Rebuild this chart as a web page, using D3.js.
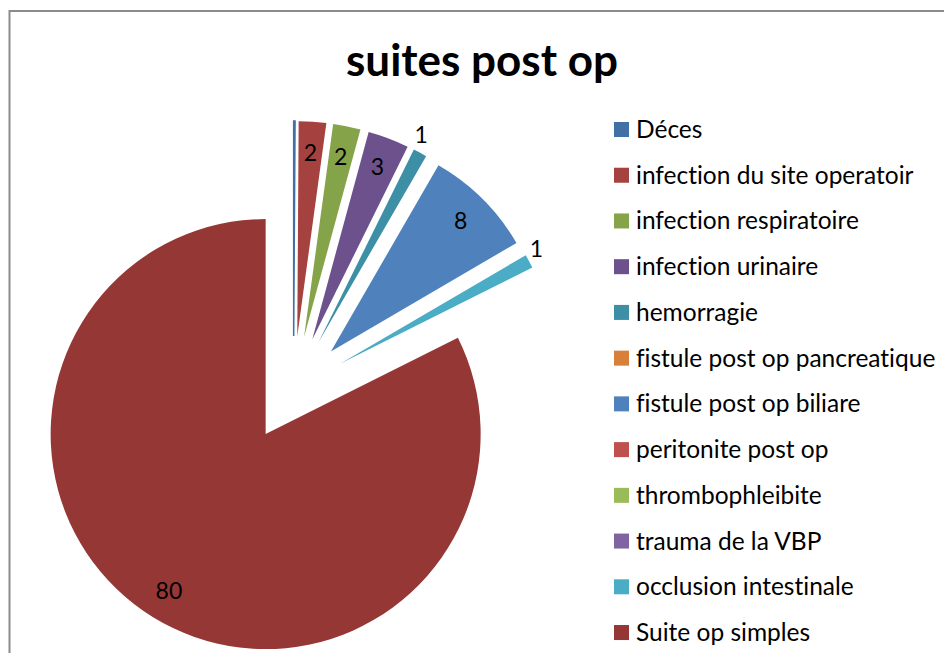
<!DOCTYPE html>
<html>
<head>
<meta charset="utf-8">
<script src="https://cdn.jsdelivr.net/npm/d3@7"></script>
<style>
  html, body { margin: 0; padding: 0; background: #fff; }
  svg { display: block; font-family: Lato, "Open Sans", sans-serif; font-variant-ligatures: none; }
</style>
</head>
<body>
<div id="chart"></div>
<script>
// data
var categories = [
  'Déces',
  'infection du site operatoir',
  'infection respiratoire',
  'infection urinaire',
  'hemorragie',
  'fistule post op pancreatique',
  'fistule post op biliare',
  'peritonite post op',
  'thrombophleibite',
  'trauma de la VBP',
  'occlusion intestinale',
  'Suite op simples'
];
var values = [0.1, 2, 2, 3, 1, 0, 8, 0, 0, 0, 1, 80];
var colors = ['#4170a6', '#a5413e', '#85a349', '#6c518c', '#3c8fa5', '#d7803a',
  '#4f81bd', '#c0504d', '#9bbb59', '#8064a2', '#4bacc6', '#953735'];
var title = 'suites post op';

var width = 944, height = 653;
var cx = 293.5, cy = 389, radius = 215, explode = 53;

var svg = d3.select('#chart').append('svg')
  .attr('width', width)
  .attr('height', height);

// chart frame
svg.append('rect')
  .attr('x', 9.5)
  .attr('y', 11)
  .attr('width', 1200)
  .attr('height', 1200)
  .style('fill', 'none')
  .style('stroke', '#8c8c8c')
  .style('stroke-width', 2);

svg.append('text')
  .attr('x', 482)
  .attr('y', 76)
  .attr('text-anchor', 'middle')
  .style('font-size', '44px')
  .style('font-weight', 'bold')
  .style('fill', '#000')
  .text(title);

var rows = categories.map(function(c, i) { return { name: c, value: values[i], color: colors[i] }; });

var pie = d3.pie()
  .sort(null)
  .value(function(d) { return d.value; });

var arc = d3.arc()
  .innerRadius(0)
  .outerRadius(radius);

var slices = pie(rows);

function offset(d, dist) {
  var a = (d.startAngle + d.endAngle) / 2;
  return [Math.sin(a) * dist, -Math.cos(a) * dist];
}

var plot = svg.append('g')
  .attr('transform', 'translate(' + cx + ',' + cy + ')');

plot.selectAll('path.slice')
  .data(slices.filter(function(d) { return d.data.value > 0; }))
  .enter().append('path')
  .attr('class', 'slice')
  .attr('d', arc)
  .attr('transform', function(d) {
    var o = offset(d, explode);
    return 'translate(' + o[0] + ',' + o[1] + ')';
  })
  .style('fill', function(d) { return d.data.color; })
  .style('stroke', function(d) { return d.data.value < 0.5 ? d.data.color : 'none'; })
  .style('stroke-width', 1.5);

// data labels: inside for wide slices, outside for thin ones
plot.selectAll('text.lbl')
  .data(slices.filter(function(d) { return d.data.value >= 1; }))
  .enter().append('text')
  .attr('class', 'lbl')
  .attr('transform', function(d) {
    var o = offset(d, explode);
    var thin = (d.endAngle - d.startAngle) < 0.1;
    var p = offset(d, thin ? 230 : 184);
    var nx = thin ? -6 : 0, ny = thin ? -5 : 0;
    return 'translate(' + (o[0] + p[0] + nx) + ',' + (o[1] + p[1] + ny) + ')';
  })
  .attr('text-anchor', 'middle')
  .attr('dy', '0.35em')
  .style('font-size', '23px')
  .style('fill', '#000')
  .text(function(d) { return d.data.value; });

// legend
var legend = svg.append('g')
  .attr('transform', 'translate(614,122)');

var item = legend.selectAll('g')
  .data(rows)
  .enter().append('g')
  .attr('transform', function(d, i) { return 'translate(0,' + (i * 45.73) + ')'; });

item.append('rect')
  .attr('width', 15)
  .attr('height', 15)
  .style('fill', function(d) { return d.color; });

item.append('text')
  .attr('x', 22)
  .attr('y', 16)
  .style('font-size', '24.5px')
  .style('fill', '#000')
  .text(function(d) { return d.name; });
</script>
</body>
</html>
